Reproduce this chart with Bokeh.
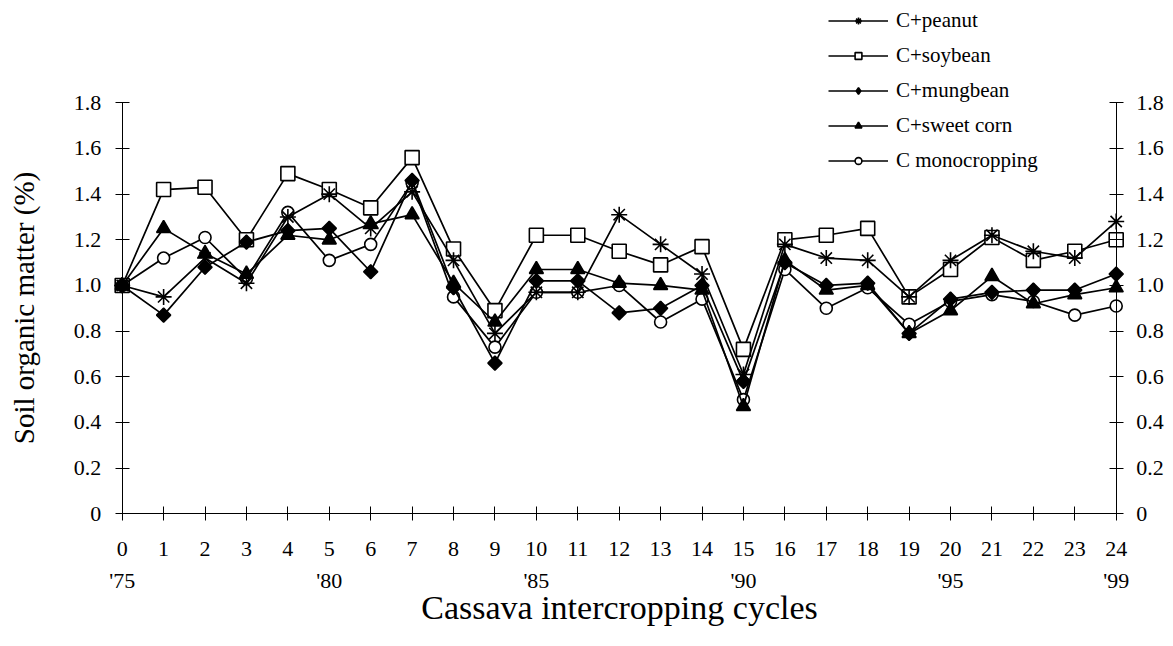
from bokeh.plotting import figure
from bokeh.models import LinearAxis, FixedTicker, Range1d, Legend, LegendItem
from bokeh.embed import file_html
from bokeh.resources import INLINE
import math

# ---------------- data ----------------
cycles = list(range(25))
year_ticks = [0, 5, 10, 15, 20, 24]
year_labels = ["'75", "'80", "'85", "'90", "'95", "'99"]
y_ticks = [0, 0.2, 0.4, 0.6, 0.8, 1.0, 1.2, 1.4, 1.6, 1.8]
y_tick_labels = ["0", "0.2", "0.4", "0.6", "0.8", "1.0", "1.2", "1.4", "1.6", "1.8"]

peanut = [1.00, 0.95, 1.12, 1.01, 1.30, 1.40, 1.25, 1.41, 1.11, 0.79, 0.97, 0.97, 1.31,
          1.18, 1.05, 0.61, 1.18, 1.12, 1.11, 0.95, 1.11, 1.22, 1.15, 1.12, 1.28]
soybean = [1.00, 1.42, 1.43, 1.20, 1.49, 1.42, 1.34, 1.56, 1.16, 0.89, 1.22, 1.22, 1.15,
           1.09, 1.17, 0.72, 1.20, 1.22, 1.25, 0.95, 1.07, 1.21, 1.11, 1.15, 1.20]
mungbean = [1.00, 0.87, 1.08, 1.19, 1.24, 1.25, 1.06, 1.46, 0.99, 0.66, 1.02, 1.02, 0.88,
            0.90, 1.00, 0.58, 1.10, 1.00, 1.01, 0.79, 0.94, 0.97, 0.98, 0.98, 1.05]
sweetcorn = [1.00, 1.25, 1.14, 1.05, 1.22, 1.20, 1.27, 1.31, 1.01, 0.84, 1.07, 1.07, 1.01,
             1.00, 0.98, 0.47, 1.11, 0.98, 1.00, 0.79, 0.89, 1.04, 0.92, 0.96, 0.99]
mono = [1.00, 1.12, 1.21, 1.03, 1.32, 1.11, 1.18, 1.45, 0.95, 0.73, 0.97, 0.97, 1.00,
        0.84, 0.94, 0.50, 1.07, 0.90, 0.99, 0.83, 0.93, 0.96, 0.93, 0.87, 0.91]

# ---------------- layout ----------------
FONT = "Liberation Serif"
W, H = 1173, 646
X0, X24 = 121.7, 1115.7            # pixel of x = 0 and x = 24
Y0, Y18 = 513.3, 102.3             # pixel of y = 0 and y = 1.8
sx = (X24 - X0) / 24.0
sy = (Y0 - Y18) / 1.8

# the frame covers the whole canvas; axes sit at fixed data locations
p = figure(width=W, height=H, output_backend="svg", toolbar_location=None,
           x_range=Range1d(-X0 / sx, 24 + (W - X24) / sx),
           y_range=Range1d(-(H - Y0) / sy, 1.8 + Y18 / sy),
           x_axis_type=None, y_axis_type=None,
           min_border_left=0, min_border_right=0, min_border_top=0, min_border_bottom=0)
p.outline_line_color = None
p.background_fill_color = "white"
p.border_fill_color = "white"


def style_axis(ax, label_px="22px", title_px="30px"):
    ax.axis_line_color = "black"
    ax.axis_line_width = 1
    ax.major_tick_line_color = "black"
    ax.major_tick_in = 7
    ax.major_tick_out = 7
    ax.minor_tick_line_color = None
    ax.major_label_text_font = FONT
    ax.major_label_text_font_size = label_px
    ax.major_label_text_color = "black"
    ax.axis_label_text_font = FONT
    ax.axis_label_text_font_size = title_px
    ax.axis_label_text_font_style = "normal"
    ax.axis_label_text_color = "black"


xaxis = LinearAxis(fixed_location=0, bounds=(0, 24), ticker=FixedTicker(ticks=cycles))
style_axis(xaxis)
xaxis.major_label_standoff = 21
p.add_layout(xaxis, "below")

xaxis2 = LinearAxis(fixed_location=0, bounds=(0, 24), ticker=FixedTicker(ticks=year_ticks),
                    major_label_overrides={t: s for t, s in zip(year_ticks, year_labels)},
                    axis_label="Cassava intercropping cycles")
style_axis(xaxis2, title_px="34px")
xaxis2.axis_line_color = None
xaxis2.major_tick_line_color = None
xaxis2.major_tick_in = 0
xaxis2.major_tick_out = 0
xaxis2.major_label_standoff = 54
xaxis2.axis_label_standoff = -7
p.add_layout(xaxis2, "below")

yaxis = LinearAxis(fixed_location=0, bounds=(0, 1.8), ticker=FixedTicker(ticks=y_ticks),
                   major_label_overrides={t: s for t, s in zip(y_ticks, y_tick_labels)},
                   axis_label="Soil organic matter (%)")
style_axis(yaxis, title_px="29px")
yaxis.major_label_standoff = 14
yaxis.axis_label_standoff = 31
p.add_layout(yaxis, "left")

yaxis_r = LinearAxis(fixed_location=24, bounds=(0, 1.8), ticker=FixedTicker(ticks=y_ticks),
                     major_label_overrides={t: s for t, s in zip(y_ticks, y_tick_labels)})
style_axis(yaxis_r)
yaxis_r.major_label_standoff = 13
p.add_layout(yaxis_r, "right")

# ---------------- series ----------------
series = [
    ("C+peanut", peanut, dict(marker="asterisk", size=16, fill_color="black")),
    ("C+soybean", soybean, dict(marker="square", size=14, fill_color="white")),
    ("C+mungbean", mungbean, dict(marker="diamond", size=13, fill_color="black")),
    ("C+sweet corn", sweetcorn, dict(marker="triangle", size=14, fill_color="black")),
    ("C monocropping", mono, dict(marker="circle", size=12, fill_color="white")),
]
draw_order = [1, 4, 0, 3, 2]
renderers = {}
for idx in draw_order:
    name, vals, mk = series[idx]
    lr = p.line(cycles, vals, line_color="black", line_width=1.7)
    sr = p.scatter(cycles, vals, line_color="black", line_width=1.6, **mk)
    renderers[name] = [lr, sr]
    if name == "C+mungbean":
        # widen the diamond: rotated square drawn over the (legend) diamond
        p.scatter(cycles, vals, marker="square", angle=math.pi / 4, size=10,
                  line_color="black", line_width=1.5, fill_color="black")

items = [LegendItem(label=name, renderers=renderers[name]) for name, _, _ in series]
legend = Legend(items=items, location=(828, H - 173),
                glyph_width=60, glyph_height=17, label_standoff=8, spacing=10,
                padding=0, margin=0, border_line_color=None, background_fill_alpha=0,
                label_text_font=FONT, label_text_font_size="21px",
                label_text_color="black")
p.add_layout(legend)

open("out.html", "w").write(file_html(p, INLINE))
